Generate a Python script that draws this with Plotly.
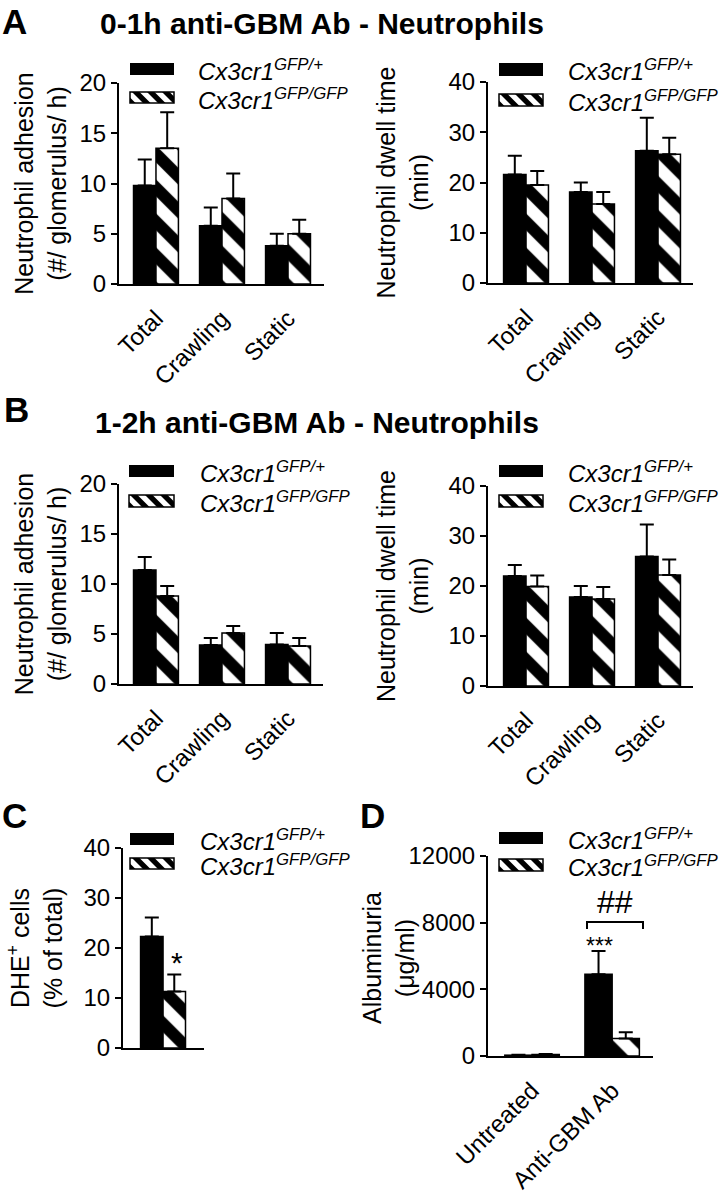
import plotly.graph_objects as go

W, H = 721, 1194
FONT = "Liberation Sans, Arial, sans-serif"

# ---------------- data ----------------
groups_neu = ["Total", "Crawling", "Static"]
groups_alb = ["Untreated", "Anti-GBM Ab"]
groups_dhe = ["DHE"]

A_adh_het = [9.8, 5.8, 3.8]
A_adh_het_err = [2.6, 1.8, 1.2]
A_adh_ko = [13.5, 8.5, 5.0]
A_adh_ko_err = [3.6, 2.5, 1.4]

A_dwell_het = [21.6, 18.1, 26.3]
A_dwell_het_err = [3.7, 1.9, 6.6]
A_dwell_ko = [19.5, 15.7, 25.6]
A_dwell_ko_err = [2.8, 2.4, 3.3]

B_adh_het = [11.4, 3.9, 3.95]
B_adh_het_err = [1.3, 0.7, 1.15]
B_adh_ko = [8.8, 5.1, 3.8]
B_adh_ko_err = [1.0, 0.7, 0.8]

B_dwell_het = [22.0, 17.8, 25.9]
B_dwell_het_err = [2.2, 2.2, 6.4]
B_dwell_ko = [19.9, 17.4, 22.2]
B_dwell_ko_err = [2.2, 2.4, 3.1]

C_het = [22.3]
C_het_err = [3.8]
C_ko = [11.3]
C_ko_err = [3.4]

D_het = [50, 4900]
D_het_err = [20, 1400]
D_ko = [90, 1050]
D_ko_err = [30, 380]

name_het = "<i>Cx3cr1</i><sup><i>GFP/+</i></sup>"
name_ko = "<i>Cx3cr1</i><sup><i>GFP/GFP</i></sup>"


def px(x):
    return x / W


def py(y):
    return 1 - y / H


fig = go.Figure()

panels = [
    (1, (119, 324), (83, 284), groups_neu, A_adh_het, A_adh_het_err, A_adh_ko, A_adh_ko_err,
     [0, 20], 5, [-0.56, 2.545], "Neutrophil adhesion<br>(#/ glomerulus/ h)", 6),
    (2, (488, 693), (82, 283), groups_neu, A_dwell_het, A_dwell_het_err, A_dwell_ko, A_dwell_ko_err,
     [0, 40], 10, [-0.576, 2.53], "Neutrophil dwell time<br>(min)", 13),
    (3, (119, 323), (484, 684), groups_neu, B_adh_het, B_adh_het_err, B_adh_ko, B_adh_ko_err,
     [0, 20], 5, [-0.56, 2.53], "Neutrophil adhesion<br>(#/ glomerulus/ h)", 6),
    (4, (488, 693), (486, 686), groups_neu, B_dwell_het, B_dwell_het_err, B_dwell_ko, B_dwell_ko_err,
     [0, 40], 10, [-0.576, 2.53], "Neutrophil dwell time<br>(min)", 13),
    (5, (123, 204), (848, 1048), groups_dhe, C_het, C_het_err, C_ko, C_ko_err,
     [0, 40], 10, [-0.606, 0.62], "DHE<sup>+</sup> cells<br>(% of total)", 14),
    (6, (488, 653), (856, 1056), groups_alb, D_het, D_het_err, D_ko, D_ko_err,
     [0, 12000], 4000, [-0.55, 1.51], None, 0),
]

layout_axes = {}
for (i, xs, ys, cats, het, het_e, ko, ko_e, yr, dt, xr, ytitle, stand) in panels:
    xa = "x" if i == 1 else f"x{i}"
    ya = "y" if i == 1 else f"y{i}"
    fig.add_trace(go.Bar(
        x=cats, y=het, name=name_het, xaxis=xa, yaxis=ya, offsetgroup="het",
        marker=dict(color="black", line=dict(color="black", width=1.5)),
        error_y=dict(type="data", array=het_e, arrayminus=[0] * len(het_e), symmetric=False,
                     color="black", thickness=2, width=7),
        showlegend=False,
    ))
    fig.add_trace(go.Bar(
        x=cats, y=ko, name=name_ko, xaxis=xa, yaxis=ya, offsetgroup="ko",
        marker=dict(color="white", line=dict(color="black", width=1.5),
                    pattern=dict(shape="\\", fgcolor="black", bgcolor="white", size=24,
                                 solidity=0.5, fgopacity=1, fillmode="replace")),
        error_y=dict(type="data", array=ko_e, arrayminus=[0] * len(ko_e), symmetric=False,
                     color="black", thickness=2, width=7),
        showlegend=False,
    ))
    xkey = "xaxis" if i == 1 else f"xaxis{i}"
    ykey = "yaxis" if i == 1 else f"yaxis{i}"
    show_x_labels = i != 5
    layout_axes[xkey] = dict(
        domain=[px(xs[0]), px(xs[1])], anchor=ya, range=xr, type="category",
        showline=True, linecolor="black", linewidth=2, ticks="",
        showticklabels=show_x_labels, tickangle=-45, ticklabelstandoff=9,
        tickfont=dict(family=FONT, size=24, color="black"), showgrid=False, zeroline=False,
        fixedrange=True, automargin=False,
    )
    yax = dict(
        domain=[py(ys[1]), py(ys[0])], anchor=xa, range=yr, dtick=dt, tick0=0, tickformat="d",
        showline=True, linecolor="black", linewidth=2, ticks="outside", ticklen=6, tickwidth=2,
        tickcolor="black", tickfont=dict(family=FONT, size=24, color="black"),
        showgrid=False, zeroline=False, fixedrange=True, automargin=False,
    )
    if ytitle:
        yax["title"] = dict(text=ytitle, font=dict(family=FONT, size=25, color="black"), standoff=stand)
    layout_axes[ykey] = yax

fig.update_layout(**layout_axes)

# ---------------- legends (drawn as shapes + text) ----------------
shapes = []
annotations = []


def clip_poly_x(poly, xmin, xmax):
    def clip(points, inside, inter):
        out = []
        for j in range(len(points)):
            cur = points[j]
            prev = points[j - 1]
            if inside(cur):
                if not inside(prev):
                    out.append(inter(prev, cur))
                out.append(cur)
            elif inside(prev):
                out.append(inter(prev, cur))
        return out

    def inter_at(xv):
        def f(p, q):
            t = (xv - p[0]) / (q[0] - p[0])
            return (xv, p[1] + t * (q[1] - p[1]))
        return f

    poly = clip(poly, lambda p: p[0] >= xmin, inter_at(xmin))
    if poly:
        poly = clip(poly, lambda p: p[0] <= xmax, inter_at(xmax))
    return poly


def legend_block(x0, x1, yb0, yb1, ys0, ys1, tx):
    shapes.append(dict(type="rect", xref="paper", yref="paper", x0=px(x0), x1=px(x1),
                       y0=py(yb1), y1=py(yb0), fillcolor="black", line=dict(width=0)))
    shapes.append(dict(type="rect", xref="paper", yref="paper", x0=px(x0), x1=px(x1),
                       y0=py(ys1), y1=py(ys0), fillcolor="white",
                       line=dict(color="black", width=1.5)))
    h = ys1 - ys0
    period, sw = 15, 7.5
    s = x0 - h - 2
    while s < x1:
        poly = [(s, ys0), (s + sw, ys0), (s + sw + h, ys1), (s + h, ys1)]
        c = clip_poly_x(poly, x0, x1)
        if len(c) >= 3:
            path = "M " + " L ".join(f"{px(p[0]):.5f},{py(p[1]):.5f}" for p in c) + " Z"
            shapes.append(dict(type="path", xref="paper", yref="paper", path=path,
                               fillcolor="black", line=dict(width=0)))
        s += period
    for txt, yc in ((name_het, (yb0 + yb1) / 2), (name_ko, (ys0 + ys1) / 2)):
        annotations.append(dict(text=txt, xref="paper", yref="paper", x=px(tx), y=py(yc + 1),
                                xanchor="left", yanchor="middle", showarrow=False,
                                font=dict(family=FONT, size=24, color="black")))


legend_block(130, 174, 63, 75, 92, 103, 196)
legend_block(499, 543, 63, 76, 94, 106, 566)
legend_block(129, 174, 465, 477, 495, 507, 198)
legend_block(499, 543, 465, 477, 495, 507, 566)
legend_block(130, 174, 833, 845, 858, 869, 198)
legend_block(499, 543, 832, 844, 859, 871, 566)

# ---------------- D y-axis title (placed by hand: it overlaps the tick-label column) ----------------
annotations.append(dict(text="Albuminuria<br>(μg/ml)", xref="paper", yref="paper", x=px(388), y=py(958),
                        xanchor="center", yanchor="middle", textangle=-90, showarrow=False,
                        font=dict(family=FONT, size=25, color="black")))

# ---------------- panel letters and titles ----------------
for letter, x, y in (("A", 0, 0), ("B", 2, 388), ("C", 0, 794), ("D", 358, 794)):
    annotations.append(dict(text=f"<b>{letter}</b>", xref="paper", yref="paper", x=px(x), y=py(y),
                            xanchor="left", yanchor="top", showarrow=False,
                            font=dict(family=FONT, size=35, color="black")))
for title, x, y in (("0-1h anti-GBM Ab - Neutrophils", 98, 24), ("1-2h anti-GBM Ab - Neutrophils", 93, 423)):
    annotations.append(dict(text=f"<b>{title}</b>", xref="paper", yref="paper", x=px(x), y=py(y),
                            xanchor="left", yanchor="middle", showarrow=False,
                            font=dict(family=FONT, size=30, color="black")))

# ---------------- significance marks ----------------
annotations.append(dict(text="*", xref="x5", yref="y5", x=groups_dhe[0], y=C_ko[0] + C_ko_err[0],
                        xshift=14, yshift=12, showarrow=False,
                        font=dict(family=FONT, size=30, color="black")))
annotations.append(dict(text="***", xref="x6", yref="y6", x=groups_alb[1], y=D_het[1] + D_het_err[1],
                        xshift=-13, yshift=5, showarrow=False,
                        font=dict(family=FONT, size=23, color="black")))
annotations.append(dict(text="##", xref="x6", yref="y6", x=groups_alb[1], y=9250,
                        xshift=3, showarrow=False,
                        font=dict(family=FONT, size=32, color="black")))
shapes.append(dict(type="path", xref="paper", yref="paper",
                   path=f"M {px(587)},{py(929)} L {px(587)},{py(922)} L {px(643)},{py(922)} L {px(643)},{py(929)}",
                   line=dict(color="black", width=2)))

fig.update_layout(
    width=W, height=H, margin=dict(l=0, r=0, t=0, b=0, autoexpand=False),
    paper_bgcolor="white", plot_bgcolor="white",
    barmode="group", bargap=0.32, bargroupgap=0,
    shapes=shapes, annotations=annotations,
    font=dict(family=FONT, color="black"),
    showlegend=False,
)

fig.write_html("out.html", config={"displayModeBar": False},
               post_script="document.body.style.margin='0';document.body.style.overflow='hidden';")
